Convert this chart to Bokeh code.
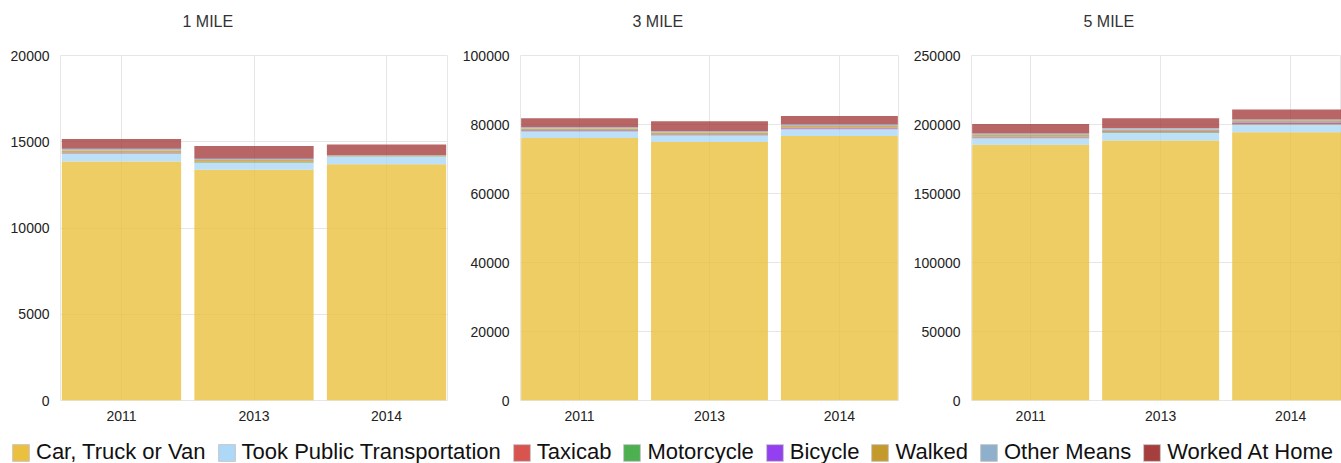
from bokeh.plotting import figure
from bokeh.layouts import column, row
from bokeh.models import (Range1d, FixedTicker, Legend, LegendItem, ColumnDataSource,
                          Title, NumeralTickFormatter)
from bokeh.embed import file_html
from bokeh.resources import INLINE

# ---------------- data ----------------
years = ["2011", "2013", "2014"]
modes = ["Car, Truck or Van", "Took Public Transportation", "Taxicab", "Motorcycle",
         "Bicycle", "Walked", "Other Means", "Worked At Home"]
keys = ["car", "public", "taxi", "moto", "bike", "walk", "other", "home"]
colors = ["#EBC03F", "#ADD8F7", "#D9534F", "#4CAF50", "#9540F0", "#C49A2C", "#8EB0CC", "#A63E3E"]

panel_titles = ["1 MILE", "3 MILE", "5 MILE"]

mile1_car = [13850, 13370, 13700]
mile1_public = [450, 410, 440]
mile1_taxi = [30, 20, 15]
mile1_moto = [20, 20, 15]
mile1_bike = [20, 20, 10]
mile1_walk = [120, 100, 20]
mile1_other = [100, 70, 20]
mile1_home = [570, 750, 620]

mile3_car = [76100, 74900, 76700]
mile3_public = [1850, 1900, 1950]
mile3_taxi = [100, 100, 100]
mile3_moto = [100, 100, 100]
mile3_bike = [150, 150, 200]
mile3_walk = [500, 500, 500]
mile3_other = [400, 400, 450]
mile3_home = [2600, 2900, 2500]

mile5_car = [185300, 188400, 194400]
mile5_public = [4800, 5500, 5400]
mile5_taxi = [300, 300, 300]
mile5_moto = [300, 300, 300]
mile5_bike = [500, 600, 700]
mile5_walk = [1200, 1300, 1500]
mile5_other = [1000, 1000, 1100]
mile5_home = [7000, 7200, 7200]

y_max = [20000, 100000, 250000]
y_step = [5000, 20000, 50000]

FONT = "Liberation Sans"
GRID = "#e6e6e6"


def make_panel(title, cols, ymax, ystep, width, left, right, xr, toff):
    src = ColumnDataSource(dict(x=list(range(len(years))), **dict(zip(keys, cols))))
    p = figure(width=width, height=426, x_range=Range1d(*xr), y_range=Range1d(0, ymax),
               output_backend="svg", toolbar_location=None,
               min_border_left=left, min_border_right=right,
               min_border_top=55, min_border_bottom=26)
    p.add_layout(Title(text=title, align="left", offset=toff, standoff=0,
                       vertical_align="top",
                       padding=dict(left=0, right=0, top=0, bottom=24),
                       text_font_size="16px", text_font=FONT, text_font_style="normal",
                       text_color="#333333"), "above")
    p.vbar_stack(keys, x="x", width=0.9, fill_color=colors, fill_alpha=0.8,
                 line_color=None, source=src)
    p.outline_line_color = GRID
    p.xaxis.ticker = FixedTicker(ticks=list(range(len(years))))
    p.xaxis.major_label_overrides = {i: y for i, y in enumerate(years)}
    p.yaxis.ticker = FixedTicker(ticks=list(range(0, ymax + 1, ystep)))
    p.yaxis.formatter = NumeralTickFormatter(format="0")
    for ax in (p.xaxis, p.yaxis):
        ax.axis_line_color = None
        ax.major_tick_line_color = None
        ax.minor_tick_line_color = None
        ax.major_label_text_font_size = "14px"
        ax.major_label_text_font = FONT
        ax.major_label_text_color = "#222222"
    p.xaxis.major_label_standoff = 4
    p.yaxis.major_label_standoff = 5
    p.xgrid.grid_line_color = GRID
    p.ygrid.grid_line_color = GRID
    p.background_fill_color = "white"
    p.border_fill_color = "white"
    return p


p1 = make_panel(panel_titles[0],
                [mile1_car, mile1_public, mile1_taxi, mile1_moto, mile1_bike, mile1_walk, mile1_other, mile1_home],
                y_max[0], y_step[0], 459, 60, 12, (-0.46, 2.46), 122)
p2 = make_panel(panel_titles[1],
                [mile3_car, mile3_public, mile3_taxi, mile3_moto, mile3_bike, mile3_walk, mile3_other, mile3_home],
                y_max[1], y_step[1], 451, 61, 12, (-0.455, 2.455), 112)
p3 = make_panel(panel_titles[2],
                [mile5_car, mile5_public, mile5_taxi, mile5_moto, mile5_bike, mile5_walk, mile5_other, mile5_home],
                y_max[2], y_step[2], 431, 61, 0, (-0.455, 2.391), 112)

lf = figure(width=1341, height=37, x_range=Range1d(0, 1), y_range=Range1d(0, 1),
            output_backend="svg", toolbar_location=None, min_border=0,
            x_axis_location=None, y_axis_location=None)
lf.outline_line_color = None
lf.grid.visible = False
items = []
for name, c in zip(modes, colors):
    r = lf.vbar(x=[float("nan")], top=[0.5], bottom=[0], width=0.5, fill_color=c, line_color="#c8c8c8")
    items.append(LegendItem(label=name, renderers=[r]))
leg = Legend(items=items, orientation="horizontal", location=(10, -2), glyph_width=21,
             glyph_height=21, label_standoff=5, spacing=10, padding=0, margin=0,
             border_line_color=None, background_fill_alpha=0,
             label_text_font_size="22px", label_text_font=FONT, label_text_color="#111111")
lf.add_layout(leg, "center")

layout = column(row(p1, p2, p3), lf)
open("out.html", "w").write(file_html(layout, INLINE))
